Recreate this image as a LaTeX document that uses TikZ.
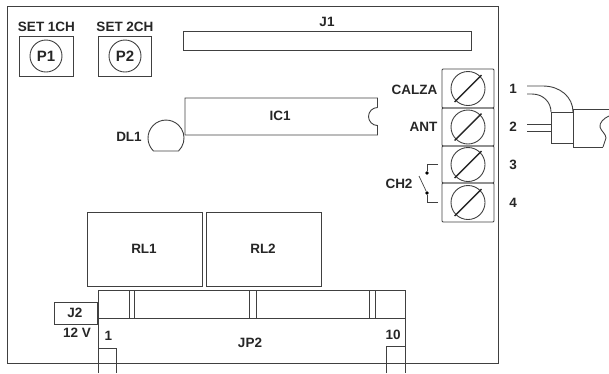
\documentclass[tikz,border=0pt]{standalone}
\usepackage{fontspec}
\setmainfont{Liberation Sans}
\usepackage{tikz}
\tikzset{
  board/.style={draw=black!75, line width=0.9pt},
  lbl/.style={font=\fontsize{13.5}{15}\selectfont\bfseries, text=black!85, inner sep=0pt},
  pot/.style={board, circle, minimum size=32pt, inner sep=0pt},
  screw/.style={board, circle, minimum size=34pt, inner sep=0pt},
  slash/.style={line width=1.4pt, black!85, shorten >=-1.5pt, shorten <=-1.5pt},
  contact/.style={circle, fill=black, inner sep=0pt, minimum size=3.6pt}
}

\begin{document}
\begin{tikzpicture}[x=1pt, y=-1pt]
  \useasboundingbox (0,0) rectangle (609,373);
  % board
  \draw[board] (7,363) -- (7,6.5) -- (498,6.5) -- (498,363) -- cycle;
  % trimmers
  \draw[board] (19.5,36) rectangle (73,76);
  \draw[board] (98,36) rectangle (151,76);
  \node[pot, lbl, font=\fontsize{15}{16}\selectfont\bfseries] (p1) at (46,56) {P1};
  \node[pot, lbl, font=\fontsize{15}{16}\selectfont\bfseries] (p2) at (125,56) {P2};
  \node[lbl] (set1) at (46.5,27) {SET 1CH};
  \node[lbl] (set2) at (125,27) {SET 2CH};
  % J1
  \draw[board] (183,31.5) rectangle (471.5,50);
  \node[lbl] (j1) at (327,22) {J1};
  % IC1 and led
  \draw[board] (377.5,107.5) -- (377.5,98) -- (185,98) -- (185,135) -- (377.5,135) -- (377.5,125.5)
    arc[start angle=90, end angle=270, radius=9];
  \node[lbl] (ic1) at (280,116) {IC1};
  \draw[board] (153.5,151) arc[start angle=134, end angle=406, radius=18] -- cycle;
  \node[lbl] (dl1) at (129,137) {DL1};
  % terminals
  \foreach \name/\ya/\yb in {a/69/108, b/108/146, c/146/183, d/183/222} {
    \draw[board, rounded corners=1pt] (442,\ya) rectangle (494,\yb);
    \node[screw] (s\name) at (468,{(\ya+\yb)/2}) {};
    \draw[slash] (s\name.225) -- (s\name.45);
  }
  \node[lbl, anchor=east] (calza) at (437.5,90) {CALZA};
  \node[lbl, anchor=east] (ant) at (437.5,127) {ANT};
  \node[lbl] (n1) at (513,89) {1};
  \node[lbl] (n2) at (513,127) {2};
  \node[lbl] (n3) at (513,165) {3};
  \node[lbl] (n4) at (513,203) {4};
  % switch
  \node[contact] (c3) at (427,173) {};
  \node[contact] (c4) at (427,193) {};
  \coordinate (w3) at (438,164);
  \coordinate (w4) at (438,202);
  \coordinate (blade) at (419,176);
  \draw[board, line width=0.7pt] (w3) -| (c3);
  \draw[board, line width=0.7pt] (w4) -| (c4);
  \draw[board, line width=0.7pt] (blade) -- (c4);
  \node[lbl] (ch2) at (399,184) {CH2};
  % plug
  \draw[board] (527,86) -- (543,86) .. controls (560,86) and (573,97) .. (573,112);
  \draw[board] (527,94) -- (532,94) .. controls (543,94) and (551,102) .. (551,112);
  \draw[board] (527,124) -- (551,124);
  \draw[board] (527,131) -- (551,131);
  \draw[board] (551,112) -- (573,112);
  \draw[board] (551,112) -- (551,143) -- (573,143);
  \draw[board] (573,109) -- (573,147) -- (603,147);
  \draw[board] (573,109) -- (609,109);
  \draw[board] (609,116) .. controls (604,118) and (599,123) .. (600,127)
    .. controls (601,131) and (606,134) .. (606,138) -- (603,147);
  % relays
  \draw[board] (87,212) rectangle (202,286);
  \draw[board] (206,212) rectangle (321,286);
  \node[lbl] (rl1) at (144,249) {RL1};
  \node[lbl] (rl2) at (263,249) {RL2};
  % JP2
  \draw[board] (98,373) -- (98,290) -- (405,290) -- (405,373);
  \draw[board] (98,318) -- (405,318);
  \foreach \xa/\xb in {129/134, 249/256, 369/375} {
    \draw[board] (\xa,290) -- (\xa,318);
    \draw[board] (\xb,290) -- (\xb,318);
  }
  \draw[board] (98,348) -- (116.5,348) -- (116.5,373);
  \draw[board] (386,373) -- (386,346) -- (405,346);
  \node[lbl] (jp2) at (250,343) {JP2};
  \node[lbl] (pin1) at (108.5,336) {1};
  \node[lbl] (pin10) at (393,335) {10};
  % J2
  \draw[board] (54,302) rectangle (97,324);
  \node[lbl] (j2) at (75,313) {J2};
  \node[lbl] (v12) at (77,333) {12 V};
\end{tikzpicture}
\end{document}
